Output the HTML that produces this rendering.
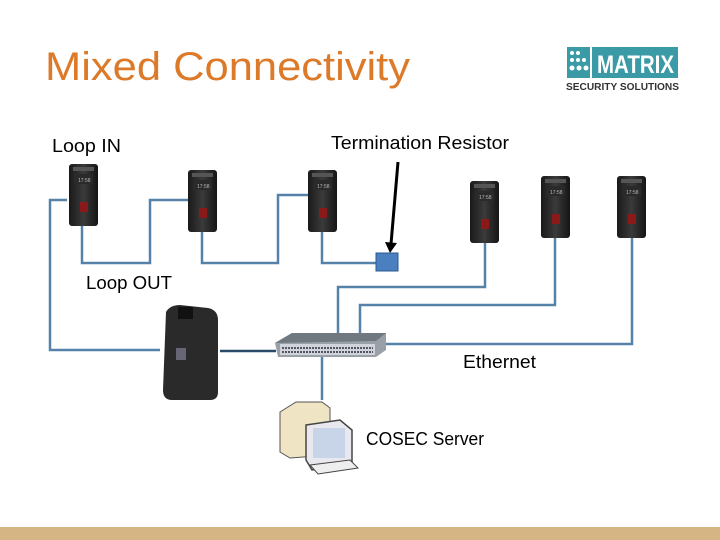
<!DOCTYPE html>
<html><head><meta charset="utf-8"><style>
html,body{margin:0;padding:0;background:#fff}
svg{display:block}
text{font-family:"Liberation Sans",sans-serif}
</style></head><body>
<svg width="720" height="540" viewBox="0 0 720 540" xmlns="http://www.w3.org/2000/svg">
<defs>
<linearGradient id="rd" x1="0" x2="1"><stop offset="0" stop-color="#1a1a1a"/><stop offset=".5" stop-color="#3a3a3a"/><stop offset="1" stop-color="#151515"/></linearGradient>
<g id="reader">
<rect x="0" y="0" width="29" height="62" rx="3" fill="url(#rd)"/>
<rect x="4" y="3" width="21" height="4" fill="#555"/>
<rect x="5" y="10" width="19" height="10" fill="#2a2a2a"/>
<text x="9" y="18" font-size="5" fill="#bbb">17:58</text>
<rect x="11" y="38" width="8" height="10" fill="#8a1a1a"/>
</g>
</defs>
<rect x="0" y="527" width="720" height="13" fill="#d6b585"/>
<text x="45" y="80" font-size="40" fill="#dc7a2a" textLength="365" lengthAdjust="spacingAndGlyphs">Mixed Connectivity</text>
<!-- logo -->
<rect x="567" y="47" width="23" height="31" fill="#3a9aa6"/>
<g fill="#fff"><circle cx="572" cy="53" r="2"/><circle cx="578" cy="53" r="2"/><circle cx="572" cy="60" r="2"/><circle cx="578" cy="60" r="2"/><circle cx="584" cy="60" r="2"/><circle cx="572" cy="68" r="2.5"/><circle cx="579" cy="68" r="2.5"/><circle cx="586" cy="68" r="2.5"/></g>
<rect x="592" y="47" width="86" height="31" fill="#3a9aa6"/>
<text x="597" y="73" font-size="25" font-weight="bold" fill="#fff" textLength="77" lengthAdjust="spacingAndGlyphs">MATRIX</text>
<text x="566" y="90" font-size="10" font-weight="bold" fill="#333" textLength="113" lengthAdjust="spacingAndGlyphs">SECURITY SOLUTIONS</text>
<!-- lines -->
<g fill="none" stroke="#5682aa" stroke-width="2.5">
<polyline points="67,200 50,200 50,350 160,350"/>
<polyline points="82,226 82,263 150,263 150,200 188,200"/>
<polyline points="202,231 202,263 278,263 278,195 308,195"/>
<polyline points="322,232 322,263 376,263"/>
<polyline points="338,333 338,287 485,287 485,242"/>
<polyline points="360,333 360,305 555,305 555,237"/>
<polyline points="386,344 632,344 632,237"/>
<polyline points="322,357 322,400"/>
</g>
<line x1="220" y1="351" x2="276" y2="351" stroke="#2a4a6a" stroke-width="2.5"/>
<!-- readers -->
<use href="#reader" x="69" y="164"/>
<use href="#reader" x="188" y="170"/>
<use href="#reader" x="308" y="170"/>
<use href="#reader" x="470" y="181"/>
<use href="#reader" x="541" y="176"/>
<use href="#reader" x="617" y="176"/>
<!-- resistor -->
<rect x="376" y="253" width="22" height="18" fill="#4a7fc0" stroke="#2d5a90"/>
<line x1="398" y1="162" x2="391" y2="244" stroke="#000" stroke-width="3"/>
<polygon points="385,242 397,243 390,253" fill="#000"/>
<!-- controller -->
<path d="M166,312 Q170,305 180,305 L208,308 Q218,310 218,320 L218,392 Q218,400 210,400 L172,400 Q163,400 163,390 Z" fill="#2a2a2a"/>
<rect x="178" y="307" width="15" height="12" fill="#111"/>
<rect x="176" y="348" width="10" height="12" fill="#667"/>
<!-- switch -->
<polygon points="275,343 292,333 386,333 386,350 376,357 278,357" fill="#9aa0a8"/>
<polygon points="275,343 292,333 386,333 376,341" fill="#707880"/>
<rect x="280" y="344" width="95" height="11" fill="#d0d4da"/>
<line x1="282" y1="348" x2="373" y2="348" stroke="#556" stroke-width="2" stroke-dasharray="2 1"/>
<line x1="282" y1="352" x2="373" y2="352" stroke="#556" stroke-width="2" stroke-dasharray="2 1"/>
<!-- computer -->
<polygon points="280,412 296,402 322,402 330,408 330,455 290,458 280,452" fill="#efe4c4" stroke="#555"/>
<polygon points="306,425 340,420 352,430 352,465 312,470 306,460" fill="#e8e8ee" stroke="#444" stroke-width="1.5"/>
<rect x="313" y="428" width="32" height="30" fill="#c8d4e8"/>
<polygon points="310,465 350,460 358,468 318,474" fill="#eee" stroke="#444"/>
<!-- labels -->
<g font-size="18" fill="#000">
<text x="52" y="152" textLength="69" lengthAdjust="spacingAndGlyphs">Loop IN</text>
<text x="331" y="149" textLength="178" lengthAdjust="spacingAndGlyphs">Termination Resistor</text>
<text x="86" y="289" textLength="86" lengthAdjust="spacingAndGlyphs">Loop OUT</text>
<text x="463" y="368" textLength="73" lengthAdjust="spacingAndGlyphs">Ethernet</text>
<text x="366" y="445" textLength="118" lengthAdjust="spacingAndGlyphs">COSEC Server</text>
</g>
</svg>
</body></html>
